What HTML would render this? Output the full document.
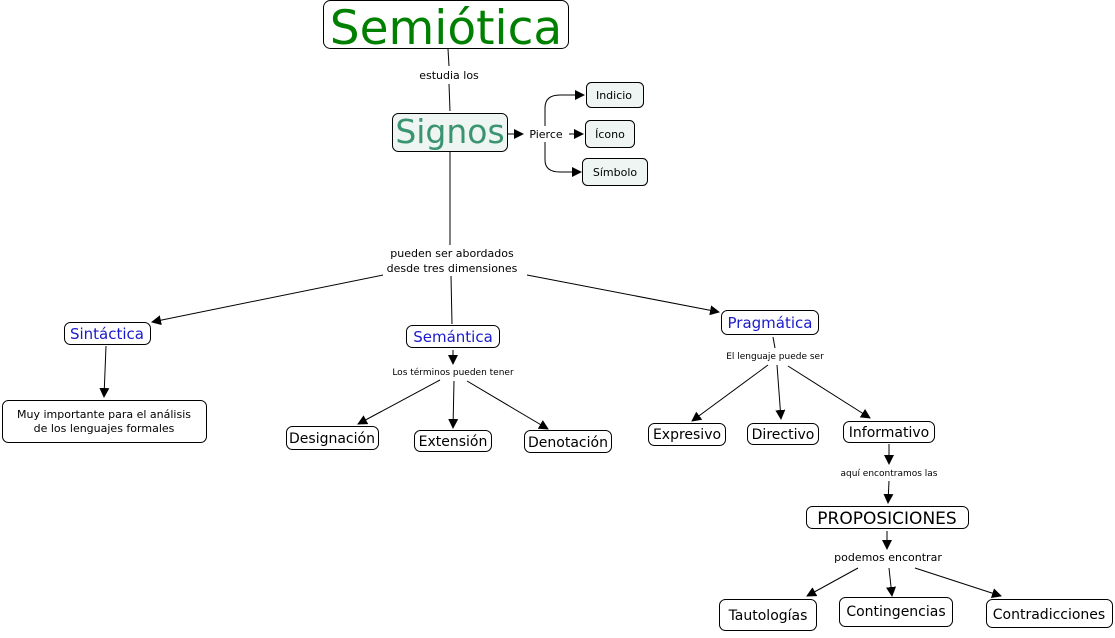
<!DOCTYPE html>
<html><head><meta charset="utf-8"><style>
html,body{margin:0;padding:0;background:#fff;}
svg text{font-family:"DejaVu Sans","Liberation Sans",sans-serif;}
</style></head><body>
<svg width="1115" height="633" viewBox="0 0 1115 633" xmlns="http://www.w3.org/2000/svg">
<defs><marker id="a" markerWidth="10" markerHeight="10" refX="9" refY="5" orient="auto" markerUnits="userSpaceOnUse"><path d="M0,0 L10,5 L0,10 z" fill="#000"/></marker></defs>
<g stroke="#000" stroke-width="1" fill="none">
<line x1="448" y1="49" x2="449" y2="66"/>
<line x1="449" y1="84" x2="450" y2="111"/>
<line x1="508" y1="134" x2="523" y2="134" marker-end="url(#a)"/>
<line x1="569" y1="134" x2="583" y2="134" marker-end="url(#a)"/>
<path d="M545,126 L545,108 Q545,95 560,95 L584,95" marker-end="url(#a)"/>
<path d="M545,142 L545,160 Q545,172 560,172 L581,172" marker-end="url(#a)"/>
<line x1="450" y1="152" x2="450" y2="245"/>
<line x1="383" y1="275" x2="152" y2="322" marker-end="url(#a)"/>
<line x1="527" y1="275" x2="719" y2="312" marker-end="url(#a)"/>
<line x1="451" y1="276" x2="452" y2="324"/>
<line x1="106" y1="346" x2="104" y2="397" marker-end="url(#a)"/>
<line x1="453" y1="350" x2="453" y2="364" marker-end="url(#a)"/>
<line x1="440" y1="380" x2="358" y2="424" marker-end="url(#a)"/>
<line x1="454" y1="381" x2="453" y2="428" marker-end="url(#a)"/>
<line x1="467" y1="381" x2="548" y2="429" marker-end="url(#a)"/>
<line x1="773" y1="337" x2="775" y2="348"/>
<line x1="768" y1="365" x2="692" y2="421" marker-end="url(#a)"/>
<line x1="777" y1="365" x2="781" y2="419" marker-end="url(#a)"/>
<line x1="788" y1="366" x2="870" y2="418" marker-end="url(#a)"/>
<line x1="889" y1="444" x2="889" y2="464" marker-end="url(#a)"/>
<line x1="889" y1="481" x2="888" y2="503" marker-end="url(#a)"/>
<line x1="887" y1="531" x2="887" y2="549" marker-end="url(#a)"/>
<line x1="858" y1="568" x2="807" y2="596" marker-end="url(#a)"/>
<line x1="889" y1="568" x2="892" y2="596" marker-end="url(#a)"/>
<line x1="915" y1="568" x2="1001" y2="596" marker-end="url(#a)"/>
<rect x="323.5" y="0.5" width="245" height="48" rx="7"/>
<rect x="392.5" y="113.5" width="115" height="38" rx="6" fill="#eef5f3"/>
<rect x="586.5" y="82.5" width="57" height="25" rx="5" fill="#eef5f3"/>
<rect x="585.5" y="120.5" width="49" height="27" rx="5" fill="#eef5f3"/>
<rect x="582.5" y="158.5" width="65" height="27" rx="5" fill="#eef5f3"/>
<rect x="64.5" y="322.5" width="86" height="22" rx="6"/>
<rect x="406.5" y="325.5" width="93" height="22" rx="6"/>
<rect x="721.5" y="310.5" width="97" height="24" rx="6"/>
<rect x="2.5" y="400.5" width="204" height="42" rx="6"/>
<rect x="286.5" y="426.5" width="92" height="23" rx="6"/>
<rect x="414.5" y="430.5" width="77" height="21" rx="6"/>
<rect x="524.5" y="430.5" width="87" height="22" rx="6"/>
<rect x="648.5" y="423.5" width="77" height="22" rx="6"/>
<rect x="747.5" y="423.5" width="71" height="21" rx="6"/>
<rect x="843.5" y="421.5" width="91" height="21" rx="6"/>
<rect x="806.5" y="506.5" width="162" height="22" rx="6"/>
<rect x="719.5" y="599.5" width="97" height="31" rx="6"/>
<rect x="839.5" y="597.5" width="113" height="29" rx="6"/>
<rect x="986.5" y="599.5" width="126" height="28" rx="6"/>
</g>
<g font-size="11" text-anchor="middle" fill="#000">
<rect x="410" y="66" width="80" height="18" fill="#fff"/>
<text x="449" y="79">estudia los</text>
<rect x="525" y="126" width="44" height="16" fill="#fff"/>
<text x="546" y="138">Pierce</text>
<text x="614" y="99">Indicio</text>
<text x="610" y="138">Ícono</text>
<text x="615" y="176">Símbolo</text>
<text x="452" y="257">pueden ser abordados</text>
<text x="452" y="272">desde tres dimensiones</text>
<text x="104" y="418">Muy importante para el análisis</text>
<text x="104" y="432">de los lenguajes formales</text>
<text x="888" y="561">podemos encontrar</text>
</g>
<g font-size="9" text-anchor="middle" fill="#000">
<text x="453" y="375">Los términos pueden tener</text>
<text x="775" y="359">El lenguaje puede ser</text>
<text x="889" y="476">aquí encontramos las</text>
</g>
<text x="446" y="44" font-size="47" fill="#008000" text-anchor="middle">Semiótica</text>
<text x="450" y="143" font-size="33" fill="#3a9470" text-anchor="middle">Signos</text>
<g font-size="15" fill="#1a1acc" text-anchor="middle">
<text x="107" y="339">Sintáctica</text>
<text x="453" y="342">Semántica</text>
<text x="770" y="328">Pragmática</text>
</g>
<g font-size="14" fill="#000" text-anchor="middle">
<text x="332" y="443">Designación</text>
<text x="453" y="446">Extensión</text>
<text x="568" y="447">Denotación</text>
<text x="687" y="439">Expresivo</text>
<text x="783" y="439">Directivo</text>
<text x="889" y="437">Informativo</text>
<text x="768" y="620">Tautologías</text>
<text x="896" y="616">Contingencias</text>
<text x="1049" y="619">Contradicciones</text>
</g>
<text x="887" y="524" font-size="17" fill="#000" text-anchor="middle">PROPOSICIONES</text>
</svg>
</body></html>
